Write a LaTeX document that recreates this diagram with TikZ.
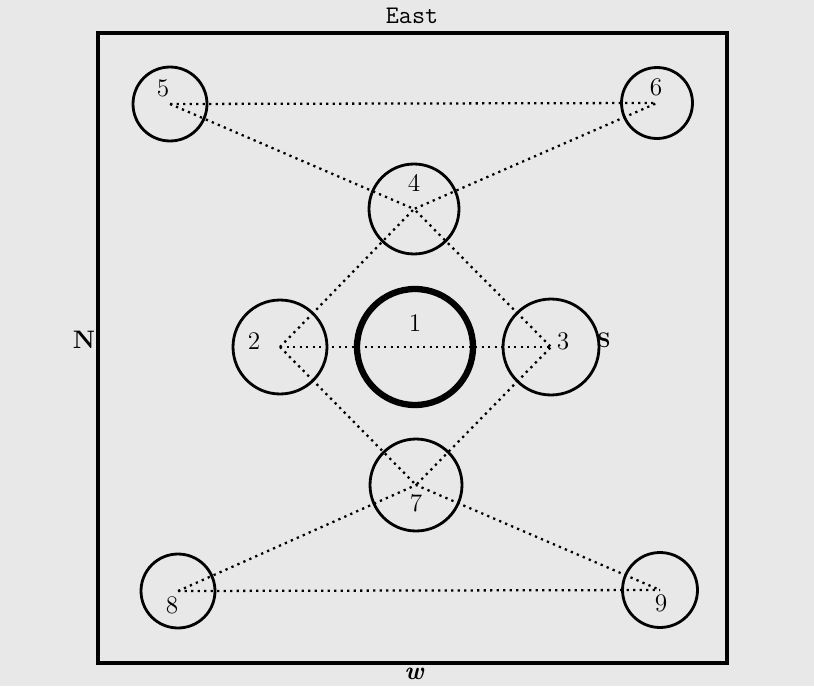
\documentclass[tikz,border=0pt]{standalone}
\usetikzlibrary{positioning}
\begin{document}
\begin{tikzpicture}[x=0.02cm,y=-0.02cm]
    \tikzset{spot/.style={circle, draw, line width=1.6pt, inner sep=0pt},
             link/.style={line width=1.3pt, dash pattern=on 1.3pt off 2.4pt},
             num/.style={font=\Large}}
    \useasboundingbox (0,0) rectangle (814,686);
    \fill[black!9] (0,0) rectangle (814,686);

    % frame and the four quarters
    \draw[line width=1.8pt] (98,33) rectangle (727,663);
    \node[font=\Large\ttfamily] (east) at (412,16) {East};
    \node[font=\Large\bfseries] (north) at (84,340) {N};
    \node[font=\large\bfseries] (south) at (604,340) {S};
    \node[font=\Large\bfseries\itshape] (west) at (414,674) {w};

    % circles
    \node[spot, minimum size=1.48cm] (p5) at (170,104) {};
    \node[spot, minimum size=1.42cm] (p6) at (657,103) {};
    \node[spot, minimum size=1.80cm] (p4) at (414,209) {};
    \node[spot, minimum size=1.88cm] (p2) at (280,347) {};
    \node[spot, minimum size=2.32cm, line width=3.6pt] (p1) at (415,347) {};
    \node[spot, minimum size=1.92cm] (p3) at (551,347) {};
    \node[spot, minimum size=1.84cm] (p7) at (416,485) {};
    \node[spot, minimum size=1.48cm] (p8) at (178,591) {};
    \node[spot, minimum size=1.50cm] (p9) at (660,590) {};

    % numbers
    \node[num] (n5) at ([shift={(-7,-16)}]p5.center) {5};
    \node[num] (n6) at ([shift={(-1,-16)}]p6.center) {6};
    \node[num] (n4) at ([shift={(0,-26)}]p4.center) {4};
    \node[num] (n2) at ([shift={(-26,-6)}]p2.center) {2};
    \node[num] (n1) at ([shift={(0,-24)}]p1.center) {1};
    \node[num] (n3) at ([shift={(12,-6)}]p3.center) {3};
    \node[num] (n7) at ([shift={(0,18)}]p7.center) {7};
    \node[num] (n8) at ([shift={(-6,14)}]p8.center) {8};
    \node[num] (n9) at ([shift={(1,13)}]p9.center) {9};

    % dotted links
    \draw[link] (p5.center) -- (p6.center);
    \draw[link] (p5.center) -- (p4.center) -- (p6.center);
    \draw[link] (p2.center) -- (p4.center) -- (p3.center);
    \draw[link] (p2.center) -- (p3.center);
    \draw[link] (p2.center) -- (p7.center) -- (p3.center);
    \draw[link] (p8.center) -- (p7.center) -- (p9.center);
    \draw[link] (p8.center) -- (p9.center);
\end{tikzpicture}
\end{document}
